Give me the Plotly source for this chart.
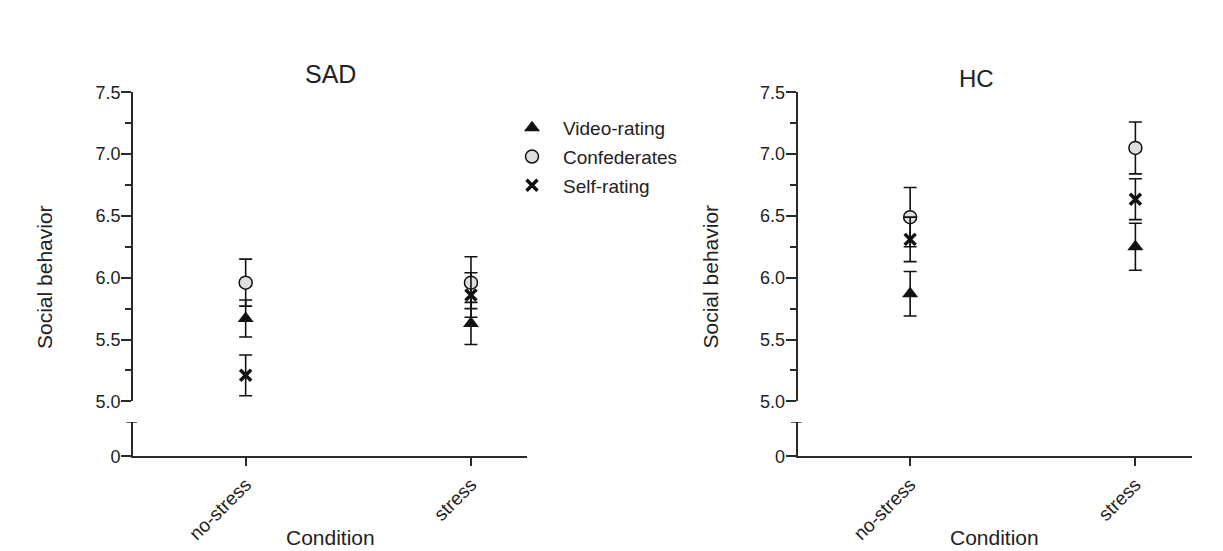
import plotly.graph_objects as go

# Conditions on the x axis
conditions = ["no-stress", "stress"]

# SAD group: means and error half-widths
sad_video = [5.67, 5.63]
sad_video_err = [0.15, 0.17]
sad_conf = [5.96, 5.96]
sad_conf_err = [0.19, 0.21]
sad_self = [5.21, 5.86]
sad_self_err = [0.165, 0.18]

# HC group: means and error half-widths
hc_video = [5.87, 6.25]
hc_video_err = [0.18, 0.19]
hc_conf = [6.49, 7.05]
hc_conf_err = [0.24, 0.21]
hc_self = [6.31, 6.635]
hc_self_err = [0.18, 0.165]

series_names = ["Video-rating", "Confederates", "Self-rating"]

W, H = 1223, 551
FONT = "Liberation Sans, Arial, Helvetica, sans-serif"
AXC = "#2a2a2a"
TXT = "#222222"


def px_x(p):
    return p / W


def px_y(p):
    return 1 - p / H


marker_styles = [
    dict(symbol="triangle-up", size=14, color="#111111", line=dict(width=0)),
    dict(symbol="circle", size=13, color="#dedede", line=dict(width=1.5, color="#111111")),
    dict(symbol="x-thin", size=11, color="#111111", line=dict(width=3.5, color="#111111")),
]

fig = go.Figure()

panels = [
    ("x", "y", [sad_video, sad_conf, sad_self], [sad_video_err, sad_conf_err, sad_self_err], True),
    ("x2", "y3", [hc_video, hc_conf, hc_self], [hc_video_err, hc_conf_err, hc_self_err], False),
]

for xa, ya, vals, errs, show in panels:
    for i, name in enumerate(series_names):
        fig.add_trace(go.Scatter(
            x=conditions, y=vals[i], mode="markers", name=name,
            xaxis=xa, yaxis=ya,
            marker=marker_styles[i],
            error_y=dict(type="data", array=errs[i], visible=True,
                         color="#111111", thickness=1.6, width=6.5),
            legendgroup=name, showlegend=show,
        ))

# Layout of the two panels in pixels
left_dom = [px_x(133), px_x(527.3)]
right_dom = [px_x(797.5), px_x(1191.7)]
upper_dom = [px_y(401.3), px_y(92.3)]
lower_dom = [px_y(456.3), px_y(422.3)]

xcommon = dict(
    type="category", range=[-0.5, 1.25], showline=True, linecolor=AXC, linewidth=1.6,
    ticks="outside", ticklen=8, tickwidth=1.6, tickcolor=AXC, tickangle=-45,
    tickfont=dict(size=19, color=TXT, family=FONT), showgrid=False, zeroline=False,
    automargin=False,
)
yupper = dict(
    range=[5.0, 7.5], tickvals=[5.0, 5.5, 6.0, 6.5, 7.0, 7.5],
    ticktext=["5.0", "5.5", "6.0", "6.5", "7.0", "7.5"],
    showline=True, linecolor=AXC, linewidth=1.6, ticks="outside", ticklen=10,
    tickwidth=1.6, tickcolor=AXC, tickfont=dict(size=18, color=TXT, family=FONT),
    ticklabelstandoff=-3,
    minor=dict(dtick=0.25, tick0=5.0, ticks="outside", ticklen=6, tickwidth=1.6,
               tickcolor=AXC, showgrid=False),
    showgrid=False, zeroline=False, automargin=False, domain=upper_dom,
)
ylower = dict(
    range=[0, 1], tickvals=[0], ticktext=["0"],
    showline=True, linecolor=AXC, linewidth=1.6, ticks="outside", ticklen=10,
    tickwidth=1.6, tickcolor=AXC, tickfont=dict(size=18, color=TXT, family=FONT),
    ticklabelstandoff=-3,
    showgrid=False, zeroline=False, automargin=False, domain=lower_dom,
)

fig.update_layout(
    width=W, height=H,
    margin=dict(l=0, r=0, t=0, b=0, autoexpand=False),
    paper_bgcolor="white", plot_bgcolor="rgba(0,0,0,0)",
    font=dict(family=FONT, color=TXT),
    xaxis=dict(xcommon, domain=left_dom, anchor="y2"),
    yaxis=dict(yupper, anchor="x"),
    yaxis2=dict(ylower, anchor="x"),
    xaxis2=dict(xcommon, domain=right_dom, anchor="y4"),
    yaxis3=dict(yupper, anchor="x2"),
    yaxis4=dict(ylower, anchor="x2"),
    legend=dict(
        x=px_x(501), y=px_y(109), xanchor="left", yanchor="top",
        font=dict(size=19, color=TXT, family=FONT), bgcolor="rgba(0,0,0,0)",
        itemwidth=52, tracegroupgap=1, traceorder="grouped",
    ),
    showlegend=True,
)

# Empty traces so the lower axis segments render
for xa, ya in (("x", "y2"), ("x2", "y4")):
    fig.add_trace(go.Scatter(x=conditions, y=[None, None], xaxis=xa, yaxis=ya,
                             mode="markers", showlegend=False, hoverinfo="skip"))

# Caps at the top of the lower axis segments (axis break)
for xd, yr in (("x domain", "y2"), ("x2 domain", "y4")):
    fig.add_shape(type="line", xref=xd, yref=yr, x0=-0.017, x1=0.01, y0=1, y1=1,
                  line=dict(color=AXC, width=1.6))

annotations = [
    dict(text="SAD", xref="x domain", x=0.5, yref="paper", y=px_y(74), size=25),
    dict(text="HC", xref="x2 domain", x=0.455, yref="paper", y=px_y(79), size=24),
    dict(text="Condition", xref="x domain", x=0.5, yref="paper", y=px_y(537), size=21),
    dict(text="Condition", xref="x2 domain", x=0.5, yref="paper", y=px_y(537), size=21),
]
for a in annotations:
    fig.add_annotation(text=a["text"], xref=a["xref"], x=a["x"], yref=a["yref"], y=a["y"],
                       xanchor="center", yanchor="middle", showarrow=False,
                       font=dict(size=a["size"], color=TXT, family=FONT))

for xp in (44, 709.5):
    fig.add_annotation(text="Social behavior", xref="paper", x=px_x(xp), yref="paper",
                       y=px_y(277), xanchor="center", yanchor="middle", textangle=-90,
                       showarrow=False, font=dict(size=21, color=TXT, family=FONT))

fig.write_html("out.html")
